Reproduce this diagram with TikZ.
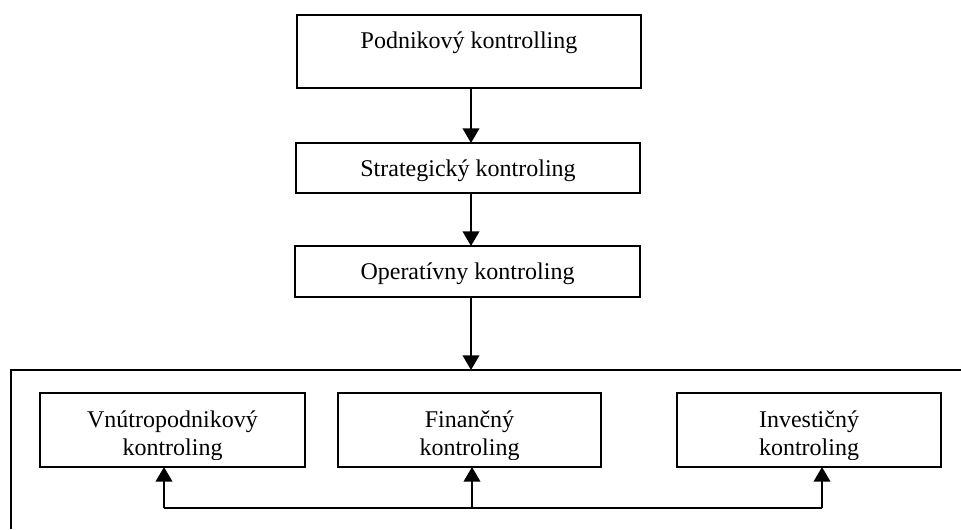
\documentclass[tikz,border=0pt]{standalone}
\usepackage{fontspec}
\setmainfont{Liberation Serif}
\usetikzlibrary{arrows.meta}
\begin{document}
\begin{tikzpicture}[
  x=0.75pt, y=-0.75pt,
  every node/.style={inner sep=0pt, outer sep=0pt},
  box/.style={draw, line width=1.2pt, rectangle},
  label/.style={font=\fontsize{18}{21}\selectfont, anchor=base, align=center},
  link/.style={line width=1.2pt, -{Triangle[length=11pt, width=12.5pt]}},
  wire/.style={line width=1.2pt}
]
\useasboundingbox (0,0) rectangle (961,529);

% main chain of boxes
\node[box, minimum width=258pt, minimum height=54.75pt] (podnik) at (469,51.5) {};
\node[box, minimum width=258pt, minimum height=37.5pt] (strat) at (468,168) {};
\node[box, minimum width=258.75pt, minimum height=38.25pt] (oper) at (467.5,271.5) {};

\node[label] (tpodnik) at (469,48) {Podnikový kontrolling};
\node[label] (tstrat) at (468,176) {Strategický kontroling};
\node[label] (toper) at (467.5,279) {Operatívny kontroling};

% frame around the three kinds of controlling
\coordinate (fbl) at (11,529);
\coordinate (ftl) at (11,370);
\coordinate (ftr) at (961,370);
\coordinate (ftop) at (471,370);
\draw[wire] (fbl) -- (ftl) -- (ftr);

% three kinds of controlling
\node[box, minimum width=198.75pt, minimum height=55.5pt] (vnutro) at (172.5,430) {};
\node[box, minimum width=197.25pt, minimum height=55.5pt] (financ) at (469.5,430) {};
\node[box, minimum width=198pt, minimum height=55.5pt] (invest) at (809,430) {};

% labels are cut off just above the lower box edge
\begin{scope}
  \clip (0,380) rectangle (961,459.5);
  \node[label] (tvnutro) at (172.5,455) {Vnútropodnikový\\kontroling};
  \node[label] (tfinanc) at (469.5,455) {Finančný\\kontroling};
  \node[label] (tinvest) at (809,455) {Investičný\\kontroling};
\end{scope}

% arrows down the chain
\coordinate (axis) at (471,0);
\draw[link] (podnik.south -| axis) -- (strat.north -| axis);
\draw[link] (strat.south -| axis) -- (oper.north -| axis);
\draw[link] (oper.south -| axis) -- (ftop);

% bus linking the three kinds
\coordinate (bv) at (164,508);
\coordinate (bf) at (472,508);
\coordinate (bi) at (822,508);
\draw[wire] (bv) -- (bi);
\draw[link] (bv) -- (bv |- vnutro.south);
\draw[link] (bf) -- (bf |- financ.south);
\draw[link] (bi) -- (bi |- invest.south);
\end{tikzpicture}
\end{document}
